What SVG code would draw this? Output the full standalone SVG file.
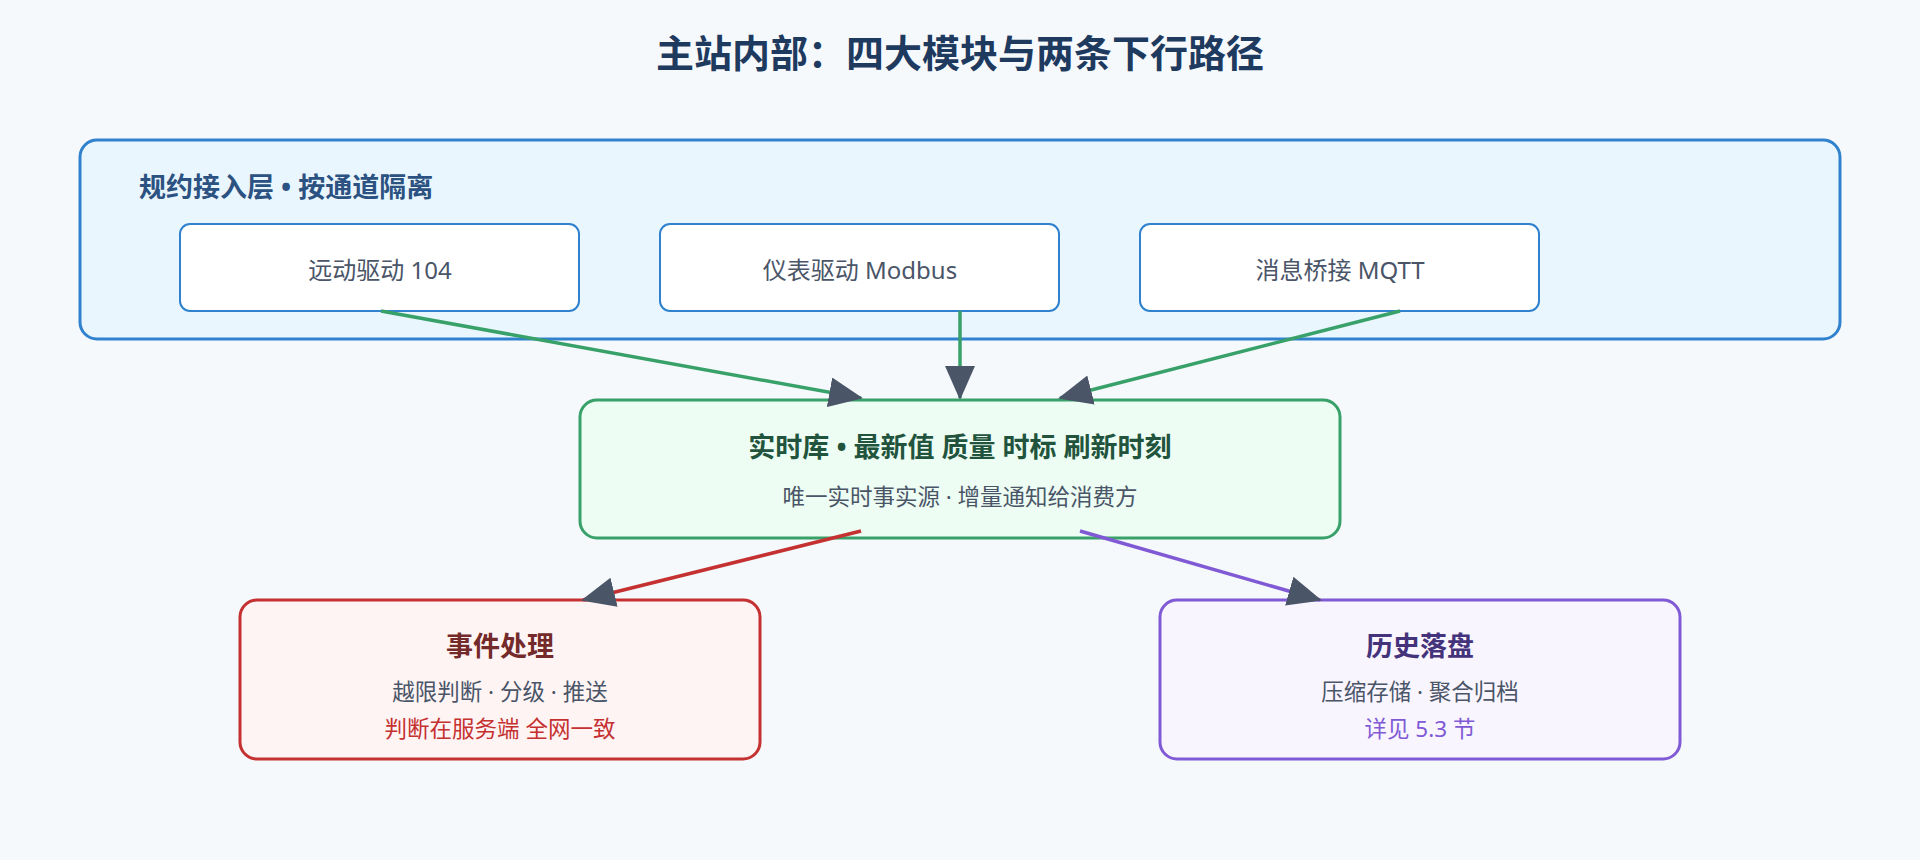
<svg xmlns="http://www.w3.org/2000/svg" width="1920" height="860" viewBox="0 0 1920 860">
<style>
text{font-family:"Noto Sans","Noto Sans CJK SC",sans-serif;text-anchor:middle}
.t{font-weight:bold;font-size:27px}
.s{font-size:22.5px;fill:#4a5568}
.b{font-size:24px;fill:#4a5568}
.in{fill:#fff;stroke:#3182ce;stroke-width:2}
</style>
<defs>
<marker id="ah" markerUnits="userSpaceOnUse" markerWidth="34" markerHeight="30" refX="32" refY="15" orient="auto"><path d="M0,0 L34,15 L0,30 z" fill="#4a5568"/></marker>
</defs>
<rect width="1920" height="860" fill="#f5f9fc"/>
<text x="960" y="67" style="font-size:38px;font-weight:bold;fill:#1e3a5f">主站内部：四大模块与两条下行路径</text>
<g id="layer">
<rect x="80" y="140" width="1760" height="199" rx="17" fill="#eaf6fe" stroke="#3182ce" stroke-width="3"/>
<text x="139" y="197" class="t" style="text-anchor:start;fill:#2c5282">规约接入层 • 按通道隔离</text>
</g>
<g id="n104"><rect class="in" x="180" y="224" width="399" height="87" rx="10"/><text class="b" x="380" y="279">远动驱动 104</text></g>
<g id="nmodbus"><rect class="in" x="660" y="224" width="399" height="87" rx="10"/><text class="b" x="860" y="279">仪表驱动 Modbus</text></g>
<g id="nmqtt"><rect class="in" x="1140" y="224" width="399" height="87" rx="10"/><text class="b" x="1340" y="279">消息桥接 MQTT</text></g>
<g id="rtdb"><rect x="580" y="400" width="760" height="138" rx="17" fill="#edfdf3" stroke="#38a169" stroke-width="3"/>
<text class="t" x="960" y="457" style="fill:#22543d">实时库 • 最新值 质量 时标 刷新时刻</text>
<text class="s" x="960" y="505">唯一实时事实源 · 增量通知给消费方</text></g>
<g id="event"><rect x="240" y="600" width="520" height="159" rx="17" fill="#fff4f4" stroke="#c53030" stroke-width="3"/>
<text class="t" x="500" y="656" style="fill:#742a2a">事件处理</text>
<text class="s" x="500" y="700">越限判断 · 分级 · 推送</text>
<text class="s" x="500" y="737" style="fill:#c53030">判断在服务端 全网一致</text></g>
<g id="history"><rect x="1160" y="600" width="520" height="159" rx="17" fill="#f9f5ff" stroke="#805ad5" stroke-width="3"/>
<text class="t" x="1420" y="656" style="fill:#44337a">历史落盘</text>
<text class="s" x="1420" y="700">压缩存储 · 聚合归档</text>
<text class="s" x="1420" y="737" style="fill:#805ad5">详见 5.3 节</text></g>
<g id="connectors" fill="none" stroke-width="3.5" marker-end="url(#ah)">
<line x1="381" y1="311" x2="861" y2="398" stroke="#38a169"/>
<line x1="960" y1="311" x2="960" y2="398" stroke="#38a169"/>
<line x1="1400" y1="311" x2="1060" y2="398" stroke="#38a169"/>
<line x1="861" y1="531" x2="583" y2="600" stroke="#c53030"/>
<line x1="1080" y1="531" x2="1320" y2="600" stroke="#805ad5"/>
</g>
</svg>
